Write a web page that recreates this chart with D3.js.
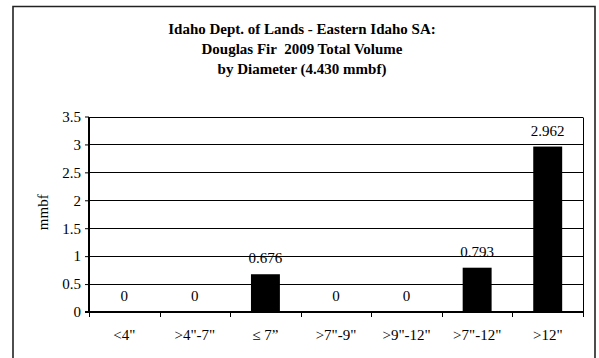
<!DOCTYPE html>
<html>
<head>
<meta charset="utf-8">
<script src="https://cdn.jsdelivr.net/npm/d3@7"></script>
<style>
  html, body { margin: 0; padding: 0; background: #fff; }
  svg { display: block; }
  text { font-family: "Liberation Serif", "Times New Roman", serif; fill: #000; }
</style>
</head>
<body>
<div id="chart"></div>
<script>
const titleLines = [
  "Idaho Dept. of Lands - Eastern Idaho SA:",
  "Douglas Fir  2009 Total Volume",
  "by Diameter (4.430 mmbf)"
];
const categories = ['<4"', '>4"-7"', '\u2264 7\u201D', '>7"-9"', '>9"-12"', '>7"-12"', '>12"'];
const values = [0, 0, 0.676, 0, 0, 0.793, 2.962];
const valueLabels = ["0", "0", "0.676", "0", "0", "0.793", "2.962"];
const yTicks = [0, 0.5, 1, 1.5, 2, 2.5, 3, 3.5];
const yLabel = "mmbf";

const W = 599, H = 358;
const plot = { left: 89, right: 583, top: 116.5, bottom: 312 };
const FS = "15px";

const svg = d3.select("#chart").append("svg").attr("width", W).attr("height", H);

// outer frame (no bottom edge visible)
svg.append("path")
  .attr("d", `M13,${H + 2} L13,6.5 L595,6.5 L595,${H + 2}`)
  .attr("fill", "none").attr("stroke", "#222").attr("stroke-width", 1.6);

// title
svg.append("g").selectAll("text").data(titleLines).join("text")
  .attr("x", 302).attr("y", (d, i) => 34 + i * 20)
  .attr("text-anchor", "middle")
  .attr("font-size", FS).attr("font-weight", "bold")
  .style("white-space", "pre")
  .text(d => d);

const x = d3.scaleBand().domain(categories).range([plot.left, plot.right]).paddingInner(0.59).paddingOuter(0.295);
const xb = d3.scaleBand().domain(categories).range([plot.left, plot.right]);
const y = d3.scaleLinear().domain([0, 3.5]).range([plot.bottom, plot.top]);

// gridlines
svg.append("g").selectAll("line").data(yTicks.filter(t => t > 0)).join("line")
  .attr("x1", plot.left).attr("x2", plot.right)
  .attr("y1", d => Math.round(y(d)) + 0.5).attr("y2", d => Math.round(y(d)) + 0.5)
  .attr("stroke", "#000").attr("stroke-width", 1);

// right border of plot
svg.append("line")
  .attr("x1", plot.right + 0.5).attr("x2", plot.right + 0.5)
  .attr("y1", Math.round(y(3.5)) + 0.5).attr("y2", plot.bottom)
  .attr("stroke", "#000").attr("stroke-width", 1);

// bars
svg.append("g").selectAll("rect").data(values).join("rect")
  .attr("x", (d, i) => x(categories[i]))
  .attr("width", x.bandwidth())
  .attr("y", d => y(d))
  .attr("height", d => plot.bottom - y(d))
  .attr("fill", "#000");

// value labels
svg.append("g").selectAll("text").data(values).join("text")
  .attr("x", (d, i) => xb(categories[i]) + xb.bandwidth() / 2)
  .attr("y", d => y(d) - 11)
  .attr("text-anchor", "middle")
  .attr("font-size", FS)
  .text((d, i) => valueLabels[i]);

// y axis
const yAxis = svg.append("g")
  .attr("transform", `translate(${plot.left},0)`)
  .call(d3.axisLeft(y).tickValues(yTicks).tickSize(4).tickPadding(4).tickFormat(d3.format("")));
yAxis.select(".domain").attr("stroke", "#000").attr("stroke-width", 2).attr("d", `M0,${Math.round(y(3.5))}V${plot.bottom}`);
yAxis.selectAll(".tick line").attr("stroke", "#000");
yAxis.selectAll(".tick text").attr("font-size", FS).attr("font-family", "Liberation Serif, serif").attr("fill", "#000");

// x axis
const xAxis = svg.append("g")
  .attr("transform", `translate(0,${plot.bottom})`)
  .call(d3.axisBottom(xb).tickSize(0).tickPadding(17));
xAxis.select(".domain").attr("stroke", "#000").attr("stroke-width", 2).attr("d", `M${plot.left - 4},0H${plot.right + 1}`);
xAxis.selectAll(".tick text").attr("font-size", FS).attr("font-family", "Liberation Serif, serif").attr("fill", "#000");
// category boundary ticks
const bounds = categories.map(c => xb(c)).concat([plot.right]);
xAxis.append("g").selectAll("line").data(bounds).join("line")
  .attr("x1", d => Math.round(d) + 0.5).attr("x2", d => Math.round(d) + 0.5)
  .attr("y1", 0).attr("y2", 5).attr("stroke", "#000");

// y label
svg.append("text")
  .attr("transform", `translate(43,${(plot.top + plot.bottom) / 2 - 2}) rotate(-90)`)
  .attr("text-anchor", "middle").attr("dy", "0.35em")
  .attr("font-size", FS)
  .text(yLabel);
</script>
</body>
</html>
